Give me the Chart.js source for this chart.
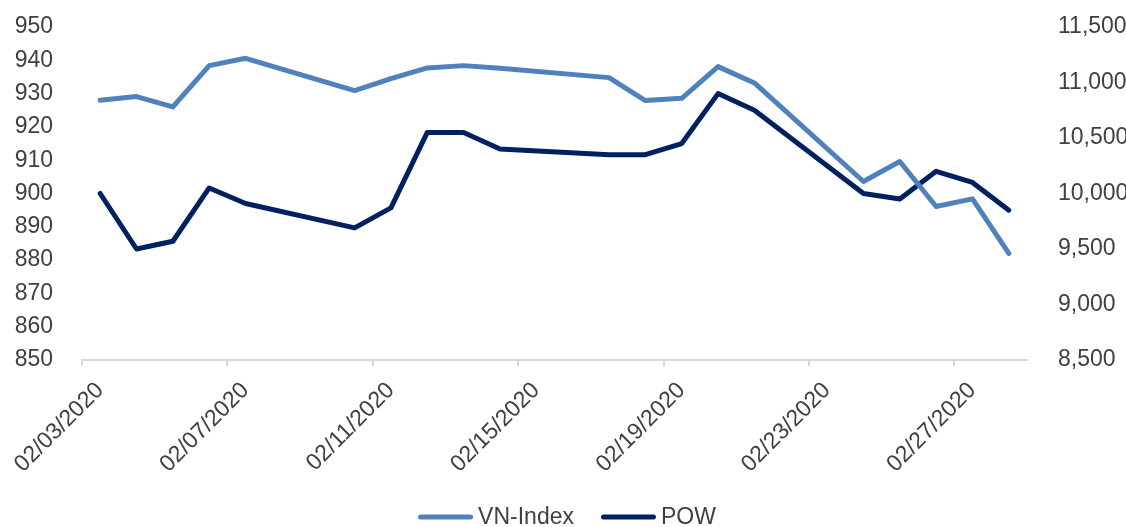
<!DOCTYPE html>
<html>
<head>
<meta charset="utf-8">
<script src="https://cdn.jsdelivr.net/npm/chart.js@4.4.1/dist/chart.umd.min.js"></script>
<style>
  html, body { margin: 0; padding: 0; background: #ffffff; }
  #wrap { width: 1126px; height: 527px; position: relative; }
</style>
</head>
<body>
<div id="wrap"><canvas id="c" width="1126" height="527"></canvas></div>
<script>
// ---- Data ----
const dates = [
  '02/03/2020','02/04/2020','02/05/2020','02/06/2020','02/07/2020',
  '02/10/2020','02/11/2020','02/12/2020','02/13/2020','02/14/2020',
  '02/17/2020','02/18/2020','02/19/2020','02/20/2020','02/21/2020',
  '02/24/2020','02/25/2020','02/26/2020','02/27/2020','02/28/2020'
];
const vnIndex = [928.0, 929.1, 926.0, 938.4, 940.6,
                 930.9, 934.5, 937.7, 938.4, 937.6,
                 934.8, 927.9, 928.6, 938.1, 933.2,
                 903.6, 909.6, 896.1, 898.4, 882.0];
const pow = [10000, 9500, 9570, 10050, 9910,
             9690, 9870, 10550, 10550, 10400,
             10350, 10350, 10450, 10900, 10750,
             10000, 9950, 10200, 10100, 9850];
const seriesNames = ['VN-Index', 'POW'];
const xStart = '02/03/2020';
const xEnd = '02/29/2020';
const xTickStepDays = 4;
const leftTicks = { min: 850, max: 950, step: 10 };
const rightTicks = { min: 8500, max: 11500, step: 500 };

// ---- helpers ----
const DAY = 86400000;
function parseMDY(s) { const [m, d, y] = s.split('/').map(Number); return Date.UTC(y, m - 1, d); }
const t0 = parseMDY(xStart);
const dayIndex = s => (parseMDY(s) - t0) / DAY;
const xMax = dayIndex(xEnd);
function fmtDay(n) {
  const dt = new Date(t0 + Math.round(n) * DAY);
  const mm = String(dt.getUTCMonth() + 1).padStart(2, '0');
  const dd = String(dt.getUTCDate()).padStart(2, '0');
  return mm + '/' + dd + '/' + dt.getUTCFullYear();
}
const toPts = vals => vals.map((v, i) => ({ x: dayIndex(dates[i]) + 0.5, y: v }));

const FONT = "'Liberation Sans', Arial, sans-serif";
const FS = 23;
const TXT = '#404040';
const AXIS = '#d9d9d9';

// custom bottom legend (line swatch directly followed by text)
const customLegend = {
  id: 'customLegend',
  afterDraw(chart) {
    const ctx = chart.ctx;
    const lineW = 55, gapText = 5, gapItem = 27, y = 517;
    ctx.save();
    ctx.font = FS + 'px ' + FONT;
    const items = chart.data.datasets.map(ds => ({ label: ds.label, color: ds.borderColor, w: ctx.measureText(ds.label).width }));
    let total = 0;
    items.forEach((it, i) => { total += lineW + gapText + it.w + (i < items.length - 1 ? gapItem : 0); });
    let x = (chart.width - total) / 2 + 4;
    items.forEach(it => {
      ctx.strokeStyle = it.color;
      ctx.lineWidth = 5;
      ctx.lineCap = 'round';
      ctx.beginPath();
      ctx.moveTo(x + 2.5, y);
      ctx.lineTo(x + lineW - 2.5, y);
      ctx.stroke();
      ctx.fillStyle = TXT;
      ctx.textBaseline = 'middle';
      ctx.textAlign = 'left';
      ctx.fillText(it.label, x + lineW + gapText, y + 1);
      x += lineW + gapText + it.w + gapItem;
    });
    ctx.restore();
  }
};

new Chart(document.getElementById('c'), {
  type: 'line',
  data: {
    datasets: [
      { label: seriesNames[0], data: toPts(vnIndex), yAxisID: 'y',
        borderColor: '#4f81bd', backgroundColor: '#4f81bd', borderWidth: 5,
        pointRadius: 0, tension: 0, borderCapStyle: 'round', borderJoinStyle: 'round' },
      { label: seriesNames[1], data: toPts(pow), yAxisID: 'y2',
        borderColor: '#002060', backgroundColor: '#002060', borderWidth: 5,
        pointRadius: 0, tension: 0, borderCapStyle: 'round', borderJoinStyle: 'round' }
    ]
  },
  plugins: [customLegend],
  options: {
    responsive: false,
    animation: false,
    layout: { padding: { top: 27, left: 0, right: 0, bottom: 0 } },
    plugins: {
      tooltip: { enabled: false },
      legend: { display: false }
    },
    scales: {
      x: {
        type: 'linear',
        min: 0, max: xMax,
        grid: { drawOnChartArea: false, drawTicks: true, tickLength: 6, color: AXIS, lineWidth: 2 },
        border: { color: AXIS, width: 2 },
        afterBuildTicks: s => { s.ticks = s.ticks.filter(t => t.value < xMax); },
        ticks: {
          stepSize: xTickStepDays, autoSkip: false,
          minRotation: 45, maxRotation: 45,
          font: { family: FONT, size: FS }, color: TXT, padding: 11, labelOffset: 18,
          callback: v => fmtDay(v)
        },
        afterFit: s => { s.height = 167; s.paddingLeft = 0; s.paddingRight = 0; }
      },
      y: {
        position: 'left',
        min: leftTicks.min, max: leftTicks.max,
        grid: { display: false },
        border: { display: false },
        ticks: { stepSize: leftTicks.step, font: { family: FONT, size: FS }, color: TXT, padding: 21 },
        afterFit: s => { s.width = 82; s.paddingTop = 0; s.paddingBottom = 0; }
      },
      y2: {
        position: 'right',
        min: rightTicks.min, max: rightTicks.max,
        grid: { display: false },
        border: { display: false },
        ticks: { stepSize: rightTicks.step, font: { family: FONT, size: FS }, color: TXT, padding: 23,
                 callback: v => v.toLocaleString('en-US') },
        afterFit: s => { s.width = 99; s.paddingTop = 0; s.paddingBottom = 0; }
      }
    }
  }
});
</script>
</body>
</html>
